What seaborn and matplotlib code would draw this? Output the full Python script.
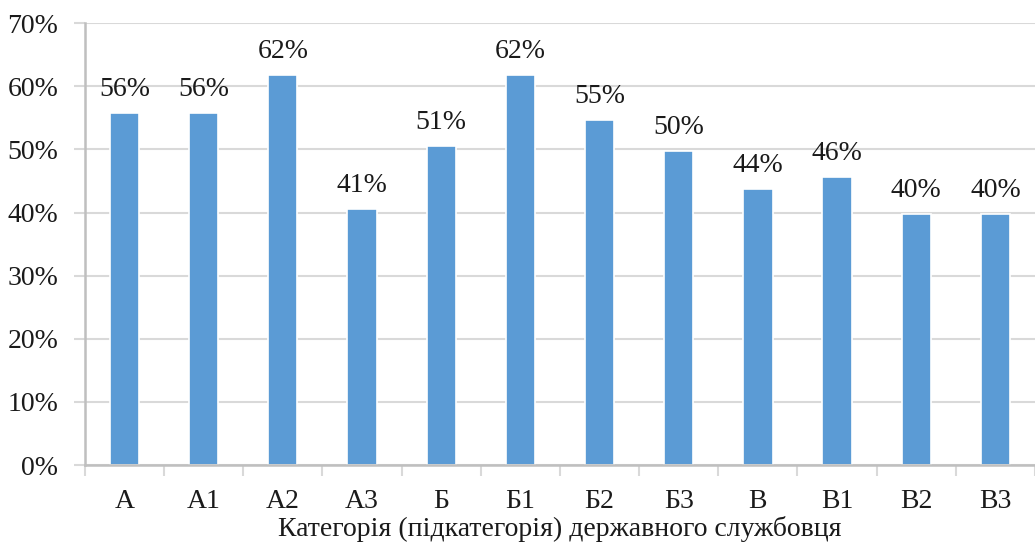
import seaborn as sns
import matplotlib.pyplot as plt
import pandas as pd
from matplotlib.ticker import PercentFormatter, FixedLocator

categories = ["А", "А1", "А2", "А3", "Б", "Б1", "Б2", "Б3", "В", "В1", "В2", "В3"]
shares = [0.557, 0.557, 0.618, 0.406, 0.506, 0.618, 0.546, 0.497, 0.437, 0.456, 0.397, 0.397]
x_title = "Категорія (підкатегорія) державного службовця"

df = pd.DataFrame({"cat": categories, "share": shares})

sns.set_style("white")
plt.rcParams["font.family"] = ["Liberation Serif", "DejaVu Serif"]

fig, ax = plt.subplots(figsize=(10.35, 5.53), dpi=100)
fig.subplots_adjust(left=0.082, right=1.0, bottom=0.159, top=0.958)

grid_col = "#d9d9d9"
ax.set_axisbelow(True)
ax.yaxis.grid(True, color=grid_col, linewidth=1.5)

sns.barplot(data=df, x="cat", y="share", color="#5b9bd5", saturation=1,
            width=0.37, edgecolor="white", linewidth=1.2, ax=ax)

for c in ax.containers:
    ax.bar_label(c, labels=[f"{v:.0%}" for v in shares], padding=8, fontsize=20, color="#1a1a1a")

ax.set_ylim(0, 0.70)
ax.set_xlim(-0.5, len(categories) - 0.5)
ax.yaxis.set_major_locator(FixedLocator([i / 10 for i in range(8)]))
ax.yaxis.set_major_formatter(PercentFormatter(1.0, decimals=0))
ax.xaxis.set_minor_locator(FixedLocator([i - 0.5 for i in range(len(categories) + 1)]))

ax.tick_params(axis="y", which="major", length=8, width=1.5, color=grid_col,
               labelsize=20, labelcolor="#1a1a1a", pad=11, left=True)
ax.tick_params(axis="x", which="major", length=0, labelsize=20, labelcolor="#1a1a1a", pad=17)
ax.tick_params(axis="x", which="minor", length=8, width=1.5, color=grid_col, bottom=True)

for side in ["top", "right"]:
    ax.spines[side].set_visible(False)
for side in ["left", "bottom"]:
    ax.spines[side].set_color("#bfbfbf")
    ax.spines[side].set_linewidth(1.8)

ax.set_ylabel("")
ax.set_xlabel(x_title, fontsize=20, color="#1a1a1a", labelpad=2)

fig.savefig("out.png", dpi=100)
